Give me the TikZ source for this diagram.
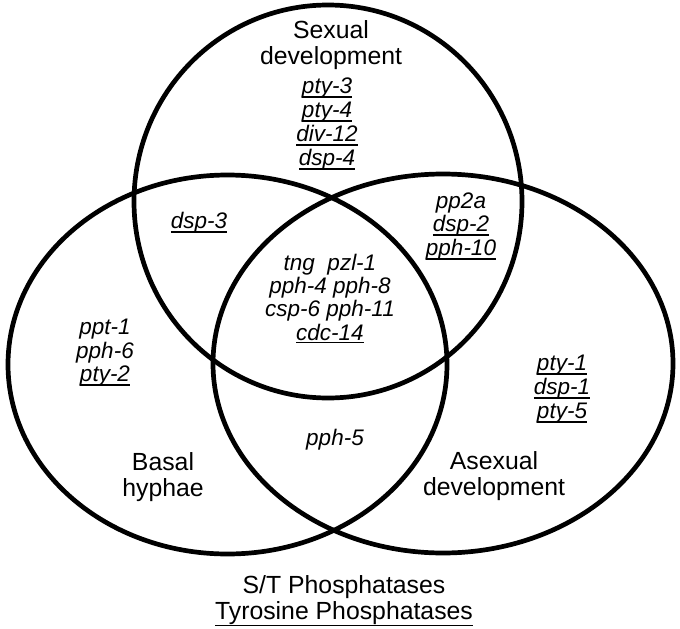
\documentclass[tikz,border=0pt]{standalone}
\usepackage{fontspec}
\setmainfont{Liberation Sans}
\newcommand\ulx[2][0.2em]{\setbox0=\hbox{#2}\rlap{\rule[-#1]{\wd0}{0.075em}}\box0}
\begin{document}
\begin{tikzpicture}[x=1pt,y=-1pt,
  ring/.style={draw=black,line width=4.7pt},
  title/.style={anchor=base,inner sep=0pt,font=\fontsize{24.8}{26}\selectfont},
  gene/.style={anchor=base,inner sep=0pt,font=\fontsize{22.5}{23.3}\selectfont\itshape}]
\useasboundingbox (0,0) rectangle (680,629);
% sets
\draw[ring] (328,201.5) ellipse [x radius=194pt, y radius=196.5pt];
\draw[ring] (227.5,364.5) ellipse [x radius=219.5pt, y radius=189.5pt];
\draw[ring] (443,363.5) ellipse [x radius=230pt, y radius=189.5pt];
% titles
\node[title] (sex1) at (331,38.5) {Sexual};
\node[title] (sex2) at (331,64.5) {development};
\node[title] (bas1) at (163,470) {Basal};
\node[title] (bas2) at (163,496) {hyphae};
\node[title] (ase1) at (494,469) {Asexual};
\node[title] (ase2) at (494,495) {development};
\node[title] (st) at (344,593.5) {S/T Phosphatases};
\node[title] (tyr) at (344,619.5) {\ulx[0.28em]{Tyrosine Phosphatases}};
% sexual only
\node[gene] (g1) at (327,93) {\ulx{pty-3}};
\node[gene] (g2) at (327,117) {\ulx{pty-4}};
\node[gene] (g3) at (327,141) {\ulx{div-12}};
\node[gene] (g4) at (327,165.5) {\ulx{dsp-4}};
% sexual & basal
\node[gene] (g5) at (199,228) {\ulx{dsp-3}};
% sexual & asexual
\node[gene] (g6) at (461,208) {pp2a};
\node[gene] (g7) at (461,231.5) {\ulx{dsp-2}};
\node[gene] (g8) at (461,255) {\ulx{pph-10}};
% all three
\node[gene] (g9) at (330,270) {tng\ \ pzl-1};
\node[gene] (g10) at (330,293.3) {pph-4 pph-8};
\node[gene] (g11) at (330,316.7) {csp-6 pph-11};
\node[gene] (g12) at (330,340) {\ulx[0.15em]{cdc-14}};
% basal only
\node[gene] (g13) at (105,334.5) {ppt-1};
\node[gene] (g14) at (105,358) {pph-6};
\node[gene] (g15) at (105,381.5) {\ulx{pty-2}};
% asexual only
\node[gene] (g16) at (562,370) {\ulx{pty-1}};
\node[gene] (g17) at (562,394) {\ulx{dsp-1}};
\node[gene] (g18) at (562,418) {\ulx{pty-5}};
% basal & asexual
\node[gene] (g19) at (335,445) {pph-5};
\end{tikzpicture}
\end{document}
